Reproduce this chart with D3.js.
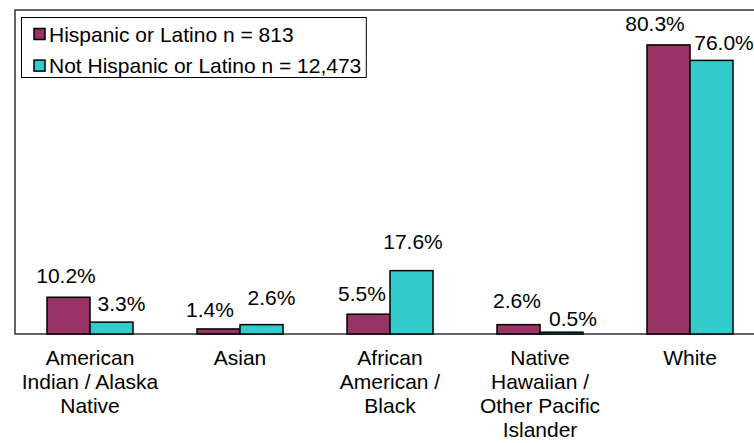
<!DOCTYPE html>
<html>
<head>
<meta charset="utf-8">
<script src="https://cdn.jsdelivr.net/npm/d3@7"></script>
<style>
  body { margin: 0; background: #fff; overflow: hidden; }
  text { font-family: "Liberation Sans", Arial, sans-serif; fill: #000; }
</style>
</head>
<body>
<div id="chart"></div>
<script>
(function () {

  // data
  var categories = [
    ['American', 'Indian / Alaska', 'Native'],
    ['Asian'],
    ['African', 'American /', 'Black'],
    ['Native', 'Hawaiian /', 'Other Pacific', 'Islander'],
    ['White']
  ]
  var seriesNames = ['Hispanic or Latino n = 813', 'Not Hispanic or Latino n = 12,473']
  var hispanic    = [10.2, 1.4, 5.5, 2.6, 80.3]
  var notHispanic = [3.3, 2.6, 17.6, 0.5, 76.0]

  // label nudges (px) from the bar top centre, same order as the values
  var nudgeHispanic    = [[-2.5, -14], [-8.5, -12], [-6.5, -13], [-1.5, -17], [-13.5, -14]]
  var nudgeNotHispanic = [[10, -11], [10, -20], [1.5, -22], [11.5, -6], [12.5, -10]]

  var colors = ['#993366', '#33cccc']

  var width = 754, height = 443
  var plot = {left: 15, top: 10, right: 765, bottom: 334}

  var svg = d3.select('#chart').append('svg')
    .attr('width', width)
    .attr('height', height)

  var keys = d3.range(seriesNames.length)
  var values = [hispanic, notHispanic]
  var nudges = [nudgeHispanic, nudgeNotHispanic]

  var xGroup = d3.scaleBand()
    .domain(d3.range(categories.length))
    .range([plot.left, plot.right])

  var xSub = d3.scaleBand()
    .domain(keys)
    .range([32, 118])

  var y = d3.scaleLinear()
    .domain([0, 90])
    .range([plot.bottom, plot.top])

  // plot frame (the right side runs off the picture)
  svg.append('path')
    .attr('d', 'M' + (width + 2) + ',' + plot.top + 'H' + plot.left + 'V' + plot.bottom + 'H' + (width + 2))
    .attr('fill', 'none')
    .attr('stroke', '#333')
    .attr('stroke-width', 1.5)

  var groups = svg.selectAll('g.group')
    .data(categories)
    .enter().append('g')
    .attr('class', 'group')
    .attr('transform', (d, i) => 'translate(' + xGroup(i) + ',0)')

  var bars = (d, i) => keys.map(k => ({k: k, v: values[k][i], n: nudges[k][i]}))

  groups.selectAll('rect')
    .data(bars)
    .enter().append('rect')
    .attr('x', d => xSub(d.k))
    .attr('y', d => y(d.v))
    .attr('width', xSub.bandwidth())
    .attr('height', d => y(0) - y(d.v))
    .attr('fill', d => colors[d.k])
    .attr('stroke', '#000')
    .attr('stroke-width', 1.5)

  groups.selectAll('text.val')
    .data(bars)
    .enter().append('text')
    .attr('class', 'val')
    .attr('x', d => xSub(d.k) + xSub.bandwidth() / 2 + d.n[0])
    .attr('y', d => y(d.v) + d.n[1])
    .attr('text-anchor', 'middle')
    .style('font-size', '21px')
    .text(d => d.v.toFixed(1) + '%')

  // category labels
  groups.append('text')
    .attr('class', 'cat')
    .attr('y', 365)
    .attr('text-anchor', 'middle')
    .style('font-size', '21px')
    .selectAll('tspan')
    .data(d => d)
    .enter().append('tspan')
    .attr('x', xGroup.bandwidth() / 2)
    .attr('dy', (d, i) => i === 0 ? 0 : 24)
    .text(d => d)

  // legend
  var legend = svg.append('g')
  var legendBox = legend.append('rect')
    .attr('x', 21.5).attr('y', 17.5)
    .attr('height', 60)
    .attr('fill', '#fff')
    .attr('stroke', '#000')
    .attr('stroke-width', 1)

  var items = legend.selectAll('g.item')
    .data(seriesNames)
    .enter().append('g')
    .attr('transform', (d, i) => 'translate(34,' + (34 + i * 31.6) + ')')

  items.append('rect')
    .attr('x', 0).attr('y', -5.5)
    .attr('width', 11).attr('height', 11)
    .attr('fill', (d, i) => colors[i])
    .attr('stroke', '#000')
    .attr('stroke-width', 1.5)

  var labels = items.append('text')
    .attr('x', 15)
    .attr('y', 7.5)
    .style('font-size', '21px')
    .text(d => d)

  var widest = d3.max(labels.nodes(), n => n.getComputedTextLength())
  legendBox.attr('width', 34 + 15 + widest + 5 - 21.5)

})()
</script>
</body>
</html>
